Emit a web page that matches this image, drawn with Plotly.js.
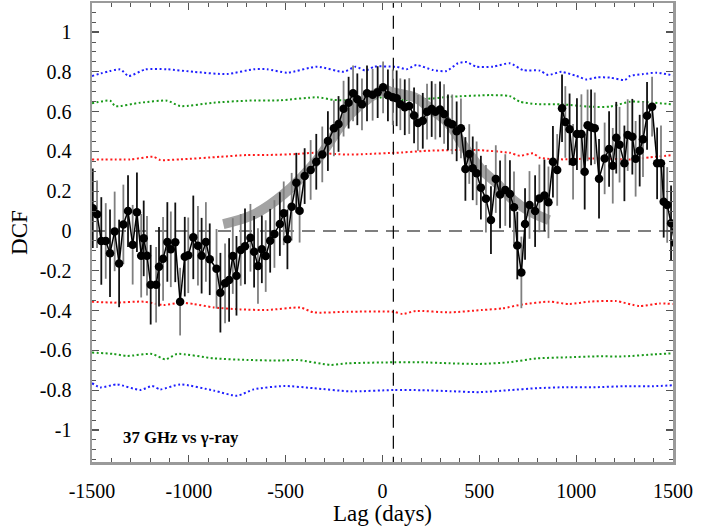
<!DOCTYPE html>
<html><head><meta charset="utf-8">
<script src="https://cdn.plot.ly/plotly-3.0.1.min.js"></script>
<style>html,body{margin:0;padding:0;background:#fff}#chart{width:715px;height:528px}</style>
</head><body><div id="chart"></div>
<script>
// DCF data points
const lag = [-1496,-1474,-1452,-1429,-1407,-1383,-1360,-1338,-1314,-1290,
-1268,-1246,-1233,-1216,-1197,-1169,-1154,-1133,-1111,-1093,
-1070,-1045,-1021,-1003,-977,-953,-934,-912,-892,-857,
-837,-813,-792,-773,-754,-732,-710,-682,-663,-643,
-623,-603,-580,-558,-530,-510,-491,-469,-445,-428,
-402,-371,-342,-311,-282,-251,-227,-201,-175,-152,
-130,-106,-80,-51,-25,3,28,53,73,92,
115,138,163,183,208,230,254,273,297,318,
338,360,383,405,428,448,466,486,508,534,
560,585,607,634,658,679,696,717,736,759,
788,810,836,857,880,902,927,944,966,984,
1004,1027,1044,1059,1077,1096,1118,1147,1170,1189,
1207,1224,1249,1266,1290,1307,1328,1345,1366,1392,
1418,1438,1452,1470,1490,1510];
const dcf = [0.114,0.084,-0.05,-0.05,-0.112,-0.002,-0.163,0.033,0.10,-0.069,
0.094,-0.124,-0.037,-0.124,-0.27,-0.27,-0.18,-0.14,-0.055,-0.092,
-0.057,-0.355,-0.129,-0.122,-0.032,-0.074,-0.124,-0.055,-0.142,-0.19,
-0.31,-0.263,-0.246,-0.126,-0.225,-0.095,-0.077,-0.034,-0.104,-0.176,
-0.092,-0.126,-0.049,-0.015,0.035,0.089,-0.042,0.122,0.243,0.102,
0.276,0.307,0.348,0.385,0.452,0.516,0.538,0.615,0.645,0.692,
0.662,0.637,0.692,0.685,0.698,0.722,0.682,0.672,0.667,0.637,
0.622,0.628,0.581,0.543,0.554,0.6,0.613,0.6,0.611,0.588,
0.546,0.536,0.501,0.516,0.312,0.387,0.315,0.29,0.218,0.162,
0.055,0.261,0.184,0.206,0.186,0.119,-0.073,-0.208,0.035,0.131,
0.1,0.164,0.179,0.144,0.348,0.307,0.617,0.548,0.511,0.348,
0.487,0.487,0.298,0.531,0.521,0.516,0.263,0.365,0.412,0.328,
0.469,0.434,0.34,0.482,0.474,0.363,0.404,0.461,0.579,0.625,
0.34,0.34,0.147,0.131,0.039,-0.06];
const dcfErr = [0.20,0.17,0.22,0.19,0.22,0.2,0.22,0.2,0.18,0.2,
0.2,0.21,0.19,0.2,0.2,0.19,0.2,0.21,0.2,0.19,
0.2,0.17,0.2,0.19,0.21,0.2,0.19,0.2,0.18,0.2,
0.2,0.2,0.21,0.19,0.2,0.18,0.19,0.17,0.18,0.19,
0.17,0.18,0.16,0.17,0.16,0.16,0.15,0.17,0.15,0.16,
0.14,0.15,0.14,0.14,0.15,0.14,0.14,0.14,0.13,0.14,
0.13,0.13,0.14,0.13,0.13,0.13,0.13,0.14,0.14,0.13,
0.14,0.14,0.14,0.14,0.14,0.14,0.14,0.14,0.14,0.15,
0.14,0.15,0.15,0.15,0.16,0.15,0.16,0.16,0.16,0.17,
0.17,0.17,0.17,0.18,0.17,0.18,0.17,0.18,0.18,0.17,
0.18,0.17,0.18,0.18,0.18,0.18,0.17,0.18,0.18,0.19,
0.18,0.2,0.19,0.18,0.19,0.18,0.2,0.18,0.19,0.19,
0.18,0.19,0.19,0.18,0.19,0.19,0.18,0.19,0.17,0.15,
0.18,0.19,0.18,0.19,0.19,0.19];

// Gray fitted band
const fitLag = [-822,-671,-510,-340,-165,10,40,170,256,342,428,514,590,675,762,860];
const fitDcf = [0.035,0.08,0.185,0.355,0.59,0.71,0.70,0.67,0.608,0.54,0.415,0.306,0.24,0.156,0.097,0.055];

// Significance levels
const sigLagTop = [-1500,-1354,-1311,-1225,-1113,-975,-803,-665,-596,-492,-337,-200,-139,-87,-44,59,72,124,175,261,330,390,433,485,571,657,726,812,855,924,1002,1054,1106,1175,1252,1278,1347,1416,1500];
const blueTop = [0.779,0.812,0.779,0.812,0.813,0.80,0.789,0.813,0.813,0.796,0.826,0.80,0.826,0.806,0.826,0.826,0.826,0.813,0.834,0.809,0.804,0.843,0.849,0.826,0.826,0.843,0.809,0.806,0.784,0.80,0.779,0.762,0.772,0.771,0.759,0.779,0.789,0.796,0.782];
const greenLagTop = [-1500,-1406,-1380,-1251,-1113,-1044,-872,-700,-527,-337,-251,-96,20,72,227,347,554,657,709,795,933,1071,1175,1278,1399,1500];
const greenTop = [0.642,0.655,0.628,0.645,0.655,0.628,0.645,0.655,0.657,0.672,0.659,0.657,0.674,0.659,0.664,0.674,0.683,0.678,0.65,0.638,0.636,0.625,0.625,0.65,0.645,0.636];
const redLagTop = [-1500,-1302,-1182,-1148,-1044,-838,-700,-596,-441,-355,-182,-79,59,72,227,364,485,657,709,778,812,933,1088,1295,1381,1500];
const redTop = [0.36,0.36,0.373,0.357,0.36,0.373,0.382,0.382,0.387,0.393,0.384,0.387,0.393,0.393,0.403,0.407,0.407,0.393,0.378,0.39,0.368,0.36,0.365,0.36,0.37,0.382];
const redLagBot = [-1500,-1388,-1233,-1130,-1044,-975,-872,-734,-596,-424,-355,-182,59,103,172,344,516,619,723,860,964,1067,1205,1326,1430,1500];
const redBot = [-0.355,-0.36,-0.355,-0.372,-0.36,-0.367,-0.384,-0.394,-0.397,-0.385,-0.409,-0.406,-0.406,-0.417,-0.402,-0.409,-0.397,-0.389,-0.369,-0.355,-0.367,-0.355,-0.352,-0.377,-0.364,-0.367];
const greenLagBot = [-1500,-1388,-1320,-1190,-1121,-1061,-872,-700,-527,-441,-268,-182,59,200,350,500,650,800,950,1100,1250,1400,1500];
const greenBot = [-0.611,-0.618,-0.628,-0.618,-0.645,-0.618,-0.64,-0.648,-0.651,-0.648,-0.673,-0.665,-0.66,-0.66,-0.665,-0.668,-0.66,-0.64,-0.635,-0.63,-0.63,-0.62,-0.615];
const blueLagBot = [-1500,-1457,-1371,-1251,-1190,-1148,-1044,-872,-751,-665,-510,-355,-165,59,200,350,500,650,800,950,1100,1250,1400,1500];
const blueBot = [-0.765,-0.786,-0.771,-0.799,-0.779,-0.796,-0.771,-0.802,-0.828,-0.796,-0.779,-0.79,-0.806,-0.799,-0.80,-0.805,-0.81,-0.80,-0.79,-0.785,-0.785,-0.78,-0.78,-0.775];

const peakLag = 56;
const xTicks = [-1500,-1000,-500,0,500,1000,1500];
const xTickText = ["-1500","-1000","-500","0","500","1000","1500"];
const yTicks = [-1,-0.8,-0.6,-0.4,-0.2,0,0.2,0.4,0.6,0.8,1];
const yTickText = ["-1","-0.8","-0.6","-0.4","-0.2","0","0.2","0.4","0.6","0.8","1"];

const dotDash = "2px,2.5px";
function sig(x, y, c) {
  return {x: x, y: y, mode: 'lines', line: {color: c, width: 2, dash: dotDash, shape: 'spline', smoothing: 0.6}, hoverinfo: 'skip', showlegend: false};
}
const traces = [
  sig(sigLagTop, blueTop, '#1f1fff'),
  sig(greenLagTop, greenTop, '#1a9a1a'),
  sig(redLagTop, redTop, '#ff1a1a'),
  sig(redLagBot, redBot, '#ff1a1a'),
  sig(greenLagBot, greenBot, '#1a9a1a'),
  sig(blueLagBot, blueBot, '#1f1fff'),
  {x: [-1500, 1500], y: [0, 0], mode: 'lines', line: {color: '#000', width: 1.2, dash: '13px,8px'}, showlegend: false, hoverinfo: 'skip'},
  {x: [peakLag, peakLag], y: [-1.2, 1.2], mode: 'lines', line: {color: '#000', width: 1.2, dash: '13px,8px'}, showlegend: false, hoverinfo: 'skip'},
  {x: fitLag, y: fitDcf, mode: 'lines', line: {color: '#a3a3a3', width: 10, shape: 'spline', smoothing: 1}, showlegend: false, hoverinfo: 'skip'}
];
// error bars, alternating black / gray
[0, 1].forEach(function (par) {
  const xs = [], ys = [], es = [];
  for (let i = par; i < lag.length; i += 2) { xs.push(lag[i]); ys.push(dcf[i]); es.push(dcfErr[i]); }
  traces.push({x: xs, y: ys, mode: 'markers', marker: {size: 1, color: 'rgba(0,0,0,0)'},
    error_y: {type: 'data', array: es, visible: true, width: 0, thickness: 1.8, color: par ? '#7f7f7f' : '#111'},
    showlegend: false, hoverinfo: 'skip'});
});
traces.push({x: lag, y: dcf, mode: 'lines+markers', line: {color: '#000', width: 1.5},
  marker: {color: '#000', size: 8.5}, showlegend: false});

const fontFam = 'Liberation Serif, Times New Roman, DejaVu Serif, serif';
const axisCommon = {
  showline: true, linecolor: '#9a9a9a', linewidth: 2.5, mirror: 'allticks',
  ticks: 'inside', ticklen: 7, tickwidth: 1.2, tickcolor: '#555',
  showgrid: false, zeroline: false, tickfont: {family: fontFam, size: 20, color: '#000'}
};
const layout = {
  width: 715, height: 528,
  margin: {l: 92, r: 42, t: 3, b: 66},
  paper_bgcolor: '#fff', plot_bgcolor: '#fff',
  font: {family: fontFam},
  xaxis: Object.assign({}, axisCommon, {
    range: [-1500, 1500], tickmode: 'array', tickvals: xTicks, ticktext: xTickText,
    minor: {tick0: 0, dtick: 100, ticks: 'inside', ticklen: 4, tickwidth: 1, tickcolor: '#555'},
    ticklabelstandoff: 9,
    title: {text: 'Lag (days)', font: {family: fontFam, size: 23, color: '#000'}, standoff: 5}
  }),
  yaxis: Object.assign({}, axisCommon, {
    range: [-1.161, 1.146], tickmode: 'array', tickvals: yTicks, ticktext: yTickText,
    minor: {tick0: 0, dtick: 0.05, ticks: 'inside', ticklen: 4, tickwidth: 1, tickcolor: '#555'},
    ticklabelstandoff: 14,
    title: {text: 'DCF', font: {family: fontFam, size: 23, color: '#000'}, standoff: 6}
  }),
  annotations: [{
    xref: 'paper', yref: 'paper', x: 0.05, y: 0.054, xanchor: 'left', yanchor: 'middle',
    text: '<b>37 GHz vs γ-ray</b>', showarrow: false,
    font: {family: fontFam, size: 16.8, color: '#000'}
  }]
};
Plotly.newPlot('chart', traces, layout, {displayModeBar: false, staticPlot: true});
</script>
</body></html>
